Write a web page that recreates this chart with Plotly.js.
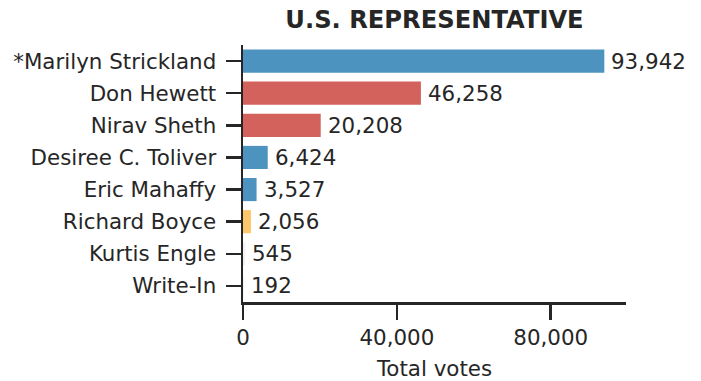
<!DOCTYPE html>
<html>
<head>
<meta charset="utf-8">
<script src="https://cdn.plot.ly/plotly-3.0.1.min.js"></script>
<style>html,body{margin:0;padding:0;background:#fff;}#chart{width:701px;height:381px;}</style>
</head>
<body>
<div id="chart"></div>
<script>
const candidates = ["*Marilyn Strickland", "Don Hewett", "Nirav Sheth", "Desiree C. Toliver", "Eric Mahaffy", "Richard Boyce", "Kurtis Engle", "Write-In"];
const votes = [93942, 46258, 20208, 6424, 3527, 2056, 545, 192];
const barColors = ["#4c93bf", "#d3625d", "#d3625d", "#4c93bf", "#4c93bf", "#fcc66b", "#f2f2f2", "#f2f2f2"];
const xTickVals = [0, 40000, 80000];
const xTickText = ["0", "40,000", "80,000"];

const ink = "#262626";
const fnt = "DejaVu Sans, sans-serif";
const fs = 21.4;

const trace = {
  type: "bar",
  orientation: "h",
  y: candidates,
  x: votes,
  marker: {color: barColors, line: {width: 0}},
  hoverinfo: "none"
};

const labels = candidates.map((c, i) => ({
  x: votes[i], y: c, xref: "x", yref: "y",
  text: votes[i].toLocaleString("en-US"),
  showarrow: false, xanchor: "left", yanchor: "middle",
  xshift: 5,
  font: {family: fnt, size: fs, color: ink}
}));

const layout = {
  width: 701, height: 381,
  margin: {l: 243, r: 75, t: 45, b: 79, pad: 0},
  paper_bgcolor: "#fff", plot_bgcolor: "#fff",
  bargap: 0.28,
  showlegend: false,
  font: {family: fnt, color: ink, size: fs},
  annotations: labels,
  title: {
    text: "<b>U.S. REPRESENTATIVE</b>",
    font: {family: fnt, size: 24.2, color: ink},
    x: 0.5, xref: "paper", xanchor: "center",
    y: 1 - 20/381, yref: "container", yanchor: "middle"
  },
  xaxis: {
    range: [0, 93942 * 1.06],
    tickvals: xTickVals, ticktext: xTickText,
    ticks: "outside", ticklen: 15, tickwidth: 2.5, tickcolor: ink,
    showline: true, linewidth: 2.5, linecolor: ink,
    showgrid: false, zeroline: false,
    tickfont: {family: fnt, size: fs, color: ink},
    title: {text: "Total votes", font: {family: fnt, size: fs, color: ink}, standoff: 14}
  },
  yaxis: {
    type: "category",
    range: [7.5, -0.5],
    ticks: "outside", ticklen: 15, tickwidth: 2.5, tickcolor: ink,
    showline: true, linewidth: 2.5, linecolor: ink,
    showgrid: false, zeroline: false,
    tickfont: {family: fnt, size: fs, color: ink},
    ticklabelstandoff: 5
  }
};

Plotly.newPlot("chart", [trace], layout, {displayModeBar: false, staticPlot: true});
</script>
</body>
</html>
